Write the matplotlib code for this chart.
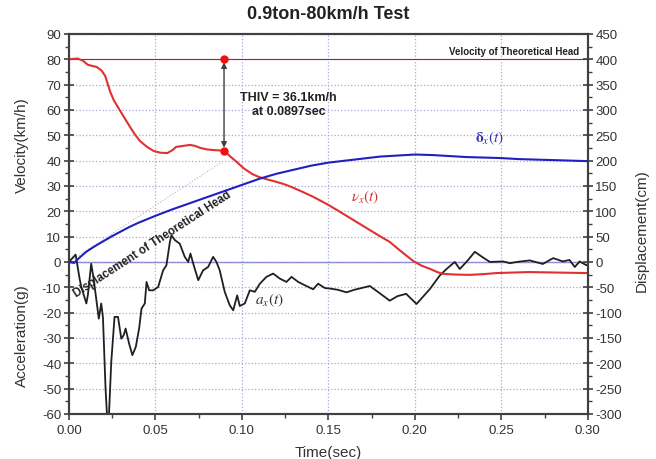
import numpy as np
import matplotlib.pyplot as plt
from matplotlib.ticker import MultipleLocator

plt.rcParams['font.family'] = ['Liberation Sans', 'DejaVu Sans']
plt.rcParams['axes.unicode_minus'] = False
plt.rcParams['mathtext.fontset'] = 'stix'

# velocity (km/h)
t_vel = [0.0, 0.005, 0.008, 0.011, 0.016, 0.019, 0.021, 0.024, 0.026, 0.029, 0.032,
         0.035, 0.038, 0.041, 0.045, 0.049, 0.053, 0.057, 0.060,
         0.062, 0.066, 0.070, 0.073, 0.076, 0.080, 0.083, 0.0897, 0.093, 0.097, 0.101,
         0.106, 0.110, 0.114, 0.119, 0.124, 0.129, 0.134, 0.141, 0.149, 0.155,
         0.161, 0.167, 0.173, 0.179, 0.1855, 0.192, 0.199, 0.204, 0.209, 0.213, 0.216,
         0.224, 0.232, 0.240, 0.247, 0.256, 0.266, 0.283, 0.30]
vel = [80.0, 80.3, 79.5, 77.8, 77.0, 75.5, 73.4, 67.0, 63.8, 60.4, 57.0,
       53.7, 50.5, 47.8, 45.5, 43.8, 43.1, 43.0, 44.2,
       45.4, 45.8, 46.2, 45.8, 45.0, 44.4, 44.2, 43.9, 41.8, 39.5, 37.0,
       34.7, 33.5, 32.7, 31.8, 30.8, 29.5, 28.0, 25.8, 22.9, 20.5,
       18.0, 15.5, 13.0, 10.5, 7.9, 4.2, 0.4, -1.5, -2.8, -4.0, -4.7,
       -5.0, -5.1, -4.8, -4.4, -4.2, -4.0, -4.2, -4.4]

# displacement (cm)
t_disp = [0.0, 0.003, 0.006, 0.010, 0.015, 0.020, 0.025, 0.030, 0.035, 0.040, 0.045,
          0.050, 0.060, 0.070, 0.080, 0.090, 0.100, 0.110, 0.120, 0.130, 0.140,
          0.150, 0.160, 0.170, 0.180, 0.190, 0.200, 0.210, 0.220, 0.230, 0.240,
          0.250, 0.260, 0.270, 0.280, 0.290, 0.300]
disp = [0, -2, 8, 20, 31, 41, 51, 60, 69, 77, 84,
        91, 104, 116, 128, 140, 152, 164, 174, 182, 190,
        196, 200, 204, 208, 210, 212, 211, 209, 207, 206,
        205, 203, 202, 201, 200, 199]

# acceleration (g)
t_acc = [0.0, 0.0039, 0.0062, 0.0072, 0.0101, 0.011, 0.0129, 0.0143, 0.0158, 0.0173,
         0.0187, 0.0197, 0.0212, 0.022, 0.0232, 0.0245, 0.0264, 0.0284, 0.0303, 0.0317,
         0.0328, 0.0348, 0.0367, 0.0387, 0.0406, 0.042, 0.0439, 0.0449, 0.0464, 0.0487,
         0.0516, 0.0545, 0.0564, 0.0584, 0.0593, 0.0613, 0.0641, 0.067, 0.069, 0.0703,
         0.0719, 0.0748, 0.0776, 0.0805, 0.0834, 0.0853, 0.0872, 0.0901, 0.093, 0.095,
         0.0973, 0.0988, 0.1017, 0.1046, 0.1075, 0.1104, 0.1142, 0.1181, 0.122, 0.1258,
         0.1287, 0.1326, 0.1364, 0.1412, 0.1441, 0.148, 0.151, 0.1555, 0.1605, 0.165,
         0.174, 0.18, 0.1855, 0.19, 0.195, 0.201, 0.2087, 0.2144, 0.2183, 0.2231,
         0.226, 0.2306, 0.2347, 0.2393, 0.2434, 0.251, 0.255, 0.259, 0.2665, 0.274,
         0.28, 0.2856, 0.2894, 0.2925, 0.2953, 0.2992, 0.30]
acc = [0.0, 2.9, -6.6, -9.9, -16.4, -13.0, -0.7, -6.6, -14.5, -22.4,
       -16.4, -22.0, -50.0, -60.0, -60.0, -39.5, -21.7, -21.7, -30.3, -28.9,
       -26.3, -32.2, -36.8, -33.5, -26.3, -18.4, -16.4, -7.9, -11.2, -11.2,
       -9.9, -3.3, -1.3, 7.9, 10.5, 8.6, 7.2, 2.0, 0.0, 3.3,
       -0.7, -7.2, -3.3, -2.0, 2.0, 0.0, -3.3, -11.8, -17.1, -19.1,
       -13.2, -17.4, -16.4, -11.2, -11.8, -8.6, -5.9, -4.6, -6.6, -7.9,
       -5.9, -7.9, -9.2, -10.8, -8.6, -10.3, -10.5, -11.0, -12.0, -11.0,
       -9.5, -12.5, -15.3, -13.5, -12.6, -16.6, -10.7, -5.4, -2.8, 0.0,
       -2.8, 0.6, 4.0, 1.8, 0.0, 0.2, -0.5, 0.0, 0.6, -0.8,
       1.5, 0.2, 0.8, -2.0, 0.2, -1.3, -1.0]

thiv_t = 0.0897
v_head = 80.0
v_at_thiv = 43.9

fig = plt.figure(figsize=(6.56, 4.6), dpi=100)
ax = fig.add_axes([0.105, 0.098, 0.791, 0.826])
ax2 = ax.twinx()

ax.set_xlim(0, 0.30)
ax.set_ylim(-60, 90)
ax2.set_ylim(-300, 450)

gc = '#a8a8d8'
ax.grid(True, which='major', color=gc, linestyle=':', linewidth=0.9)
ax.axhline(0, color='#8080d0', lw=1.0, zorder=1)
ax.axhline(v_head, color='#b02020', lw=0.8, zorder=2)

ax.plot(t_acc, acc, color='#202020', lw=1.3, zorder=3)
ax.plot(t_vel, vel, color='#e03030', lw=1.5, zorder=4)
ax2.plot(t_disp, disp, color='#2020c0', lw=1.5, zorder=4)

# theoretical head displacement
ax.plot([0, thiv_t], [0, 40], color='#b8b8b8', lw=0.8, ls=':', zorder=2)
ax.text(0.0485, 7.2, 'Displacement of Theoretical Head', rotation=33,
        rotation_mode='anchor', ha='center', va='center', fontsize=8.3,
        fontweight='bold', color='#222222')

# THIV annotation
ax.plot([thiv_t, thiv_t], [v_head, v_at_thiv], 'o', color='#ee1111', ms=5, zorder=6)
ax.annotate('', xy=(thiv_t, v_at_thiv + 1.2), xytext=(thiv_t, v_head - 1.2),
            arrowprops=dict(arrowstyle='<|-|>', color='#404040', lw=1.0,
                            mutation_scale=8, shrinkA=0, shrinkB=0), zorder=5)
ax.text(0.127, 62.4, 'THIV = 36.1km/h\nat 0.0897sec', ha='center', va='center',
        fontsize=9, fontweight='bold', color='#222222', linespacing=1.3)
ax.text(0.295, 81.2, 'Velocity of Theoretical Head', ha='right', va='bottom',
        fontsize=7, fontweight='bold', color='#222222')

# curve labels
ax.text(0.243, 49.3, r'$\mathbf{\delta}_x(t)$', color='#3030b0', fontsize=11,
        ha='center', va='center')
ax.text(0.171, 26.0, r'$\nu_x(t)$', color='#d03030', fontsize=11,
        ha='center', va='center')
ax.text(0.116, -14.6, r'$a_x(t)$', color='#303030', fontsize=11,
        ha='center', va='center')

ax.xaxis.set_major_locator(MultipleLocator(0.05))
ax.xaxis.set_minor_locator(MultipleLocator(0.025))
ax.yaxis.set_major_locator(MultipleLocator(10))
ax.yaxis.set_minor_locator(MultipleLocator(5))
ax2.yaxis.set_major_locator(MultipleLocator(50))
ax2.yaxis.set_minor_locator(MultipleLocator(25))
ax.xaxis.set_major_formatter(plt.FuncFormatter(lambda v, p: f'{v:.2f}'))

for a in (ax, ax2):
    a.tick_params(which='major', direction='inout', length=7, width=1.2,
                  color='#404040', labelsize=9.5, labelcolor='#333333')
    a.tick_params(which='minor', direction='out', length=3, width=1.0, color='#404040')
    for s in a.spines.values():
        s.set_color('#404040')
        s.set_linewidth(1.5)
ax.tick_params(axis='x', which='major', direction='out', length=4)
ax.tick_params(axis='y', which='major', pad=2)
ax2.tick_params(axis='y', which='major', pad=2)

fig.text(0.5, 0.968, '0.9ton-80km/h Test', ha='center', va='center',
         fontsize=13, fontweight='bold', color='#222222')
fig.text(0.034, 0.685, 'Velocity(km/h)', rotation=90, ha='center', va='center',
         fontsize=11, color='#333333')
fig.text(0.034, 0.27, 'Acceleration(g)', rotation=90, ha='center', va='center',
         fontsize=11, color='#333333')
fig.text(0.978, 0.498, 'Displacement(cm)', rotation=90, ha='center', va='center',
         fontsize=11, color='#333333')
fig.text(0.5, 0.015, 'Time(sec)', ha='center', va='center',
         fontsize=11, color='#333333')

fig.savefig('out.png', dpi=100)
